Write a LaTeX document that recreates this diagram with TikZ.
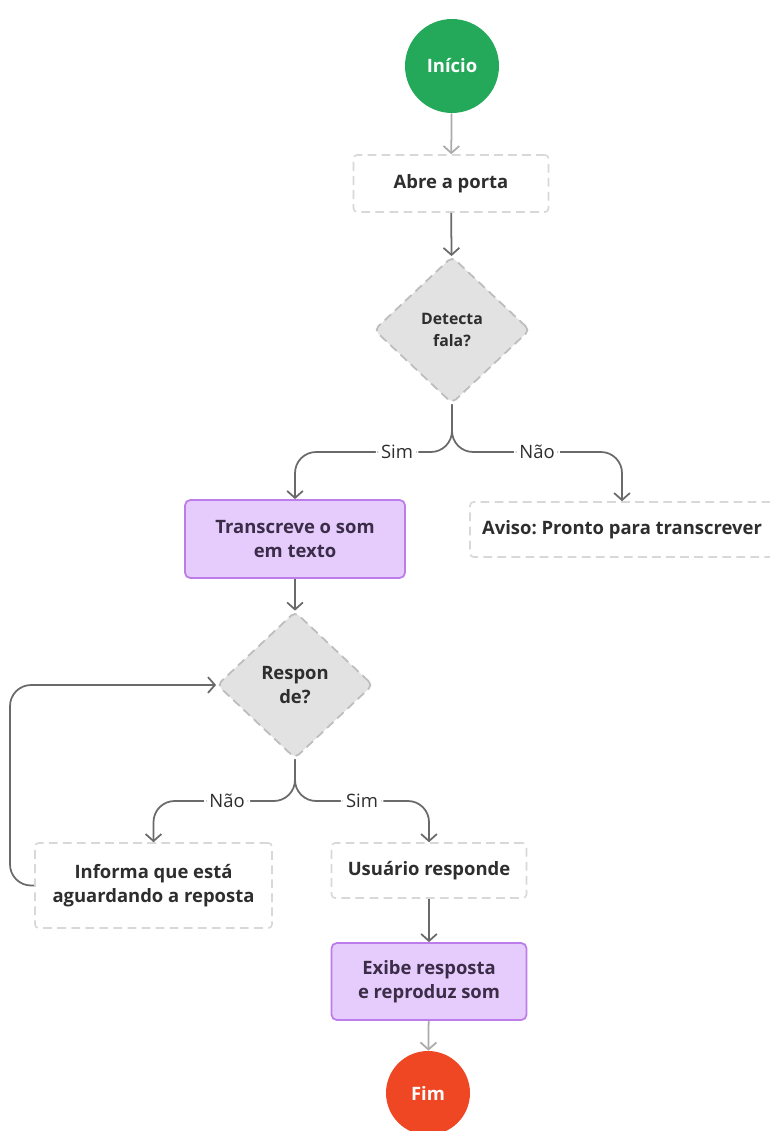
\documentclass[tikz,border=0pt]{standalone}
\usepackage{fontspec}
\setmainfont{Open Sans}
\frenchspacing
\usetikzlibrary{shapes.geometric,arrows.meta}
\definecolor{startgreen}{HTML}{24A95A}
\definecolor{endred}{HTML}{EF4623}
\definecolor{procfill}{HTML}{E6CCFD}
\definecolor{procline}{HTML}{BC7DEB}
\definecolor{procink}{HTML}{3B2C47}
\definecolor{decfill}{HTML}{E2E2E2}
\definecolor{decline}{HTML}{BDBDBD}
\definecolor{boxline}{HTML}{D8D8D8}
\definecolor{ink}{HTML}{2E2E2E}
\definecolor{wire}{HTML}{6A6A6A}
\definecolor{wirelight}{HTML}{ABABAB}
\begin{document}
\begin{tikzpicture}[x=0.02cm,y=-0.02cm,
  txt/.style={font=\bfseries\fontsize{10.5}{14}\selectfont, align=center, text=ink},
  terminal/.style={circle, fill=#1, text=white, font=\bfseries\fontsize{10.5}{14}\selectfont, inner sep=0pt},
  dashbox/.style={txt, draw=boxline, line width=0.9pt, dash pattern=on 5pt off 3pt, rounded corners=2pt, fill=white, inner sep=0pt},
  procbox/.style={txt, text=procink, draw=procline, line width=1pt, rounded corners=3pt, fill=procfill, inner sep=0pt},
  decision/.style={txt, diamond, draw=decline, line width=1pt, dash pattern=on 5pt off 3pt, rounded corners=3pt, fill=decfill, inner sep=0pt, minimum width=3.12cm, minimum height=2.94cm},
  arr/.style={draw=wire, line width=1pt, -{Straight Barb[length=4pt,width=9pt]}},
  arrlight/.style={arr, draw=wirelight},
  lbl/.style={fill=white, text=ink, inner sep=3pt, font=\fontsize{10.5}{14}\selectfont},
]
\useasboundingbox (0,0) rectangle (769,1131);
\draw (452,66) node[terminal=startgreen, minimum size=1.88cm](inicio) {Início} ;
\draw (451,183.5) node[dashbox, minimum width=3.9cm, minimum height=1.14cm](abre) {Abre a porta} ;
\draw (452,330) node[decision, font=\bfseries\fontsize{9}{13}\selectfont](detecta) {Detecta\\fala?} ;
  \draw (295,539) node[procbox, minimum width=4.4cm, minimum height=1.56cm](transcreve) {Transcreve o som\\em texto} ;
  \draw (622,529.5) node[dashbox, minimum width=6.08cm, minimum height=1.1cm](aviso) {Aviso: Pronto para transcrever} ;
  \draw (295,685) node[decision](responde) {Respon\\de?} ;
    \draw (153.5,885.5) node[dashbox, minimum width=4.74cm, minimum height=1.7cm](informa) {Informa que está\\aguardando a reposta} ;
    \draw (429,870.5) node[dashbox, minimum width=3.9cm, minimum height=1.1cm](usuario) {Usuário responde} ;
    \draw (429,981.5) node[procbox, minimum width=3.9cm, minimum height=1.54cm](exibe) {Exibe resposta\\e reproduz som} ;
\draw (428,1093) node[terminal=endred, minimum size=1.68cm](fim) {Fim} ;
\draw[arrlight] (inicio) -- (abre) ;
\draw[arr] (abre) -- (detecta) ;
\draw[arr, rounded corners=12pt] (detecta.south) -- (452,452) -- node[lbl, pos=0.35]{Sim} (295,452) -- (transcreve.north) ;
\draw[arr, rounded corners=12pt] (detecta.south) -- (452,452) -- node[lbl, pos=0.5]{Não} (622,452) -- (aviso.north) ;
\draw[arr] (transcreve) -- (responde) ;
\draw[arr, rounded corners=12pt] (responde.south) -- (295,801) -- node[lbl, pos=0.48]{Não} (153.5,801) -- (informa.north) ;
\draw[arr, rounded corners=12pt] (responde.south) -- (295,801) -- node[lbl, pos=0.5]{Sim} (429,801) -- (usuario.north) ;
\draw[arr, rounded corners=12pt] (informa.west) -- (10,885.5) -- (10,685) -- (responde.west) ;
\draw[arr] (usuario) -- (exibe) ;
\draw[arrlight] (exibe) -- (fim) ;
\end{tikzpicture}
\end{document}
